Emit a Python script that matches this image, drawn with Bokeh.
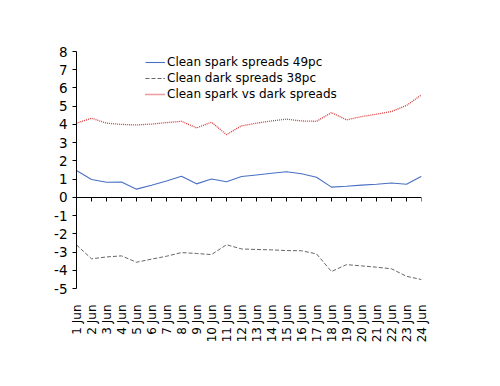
import math
from bokeh.plotting import figure
from bokeh.models import Range1d, LinearAxis, FixedTicker, Legend, LegendItem
from bokeh.embed import file_html
from bokeh.resources import INLINE

day_labels = ["1 Jun", "2 Jun", "3 Jun", "4 Jun", "5 Jun", "6 Jun", "7 Jun", "8 Jun",
              "9 Jun", "10 Jun", "11 Jun", "12 Jun", "13 Jun", "14 Jun", "15 Jun", "16 Jun",
              "17 Jun", "18 Jun", "19 Jun", "20 Jun", "21 Jun", "22 Jun", "23 Jun", "24 Jun"]
day_pos = [1, 2, 3, 4, 5, 6, 7, 8, 9, 10, 11, 12, 13, 14, 15, 16, 17, 18, 19, 20, 21, 22, 23, 24]

spark = [1.47, 0.98, 0.83, 0.84, 0.45, 0.66, 0.90, 1.16, 0.74, 1.01, 0.86, 1.14,
         1.23, 1.32, 1.40, 1.29, 1.10, 0.56, 0.61, 0.67, 0.72, 0.79, 0.72, 1.16]
dark = [-2.61, -3.37, -3.27, -3.21, -3.56, -3.39, -3.23, -3.03, -3.08, -3.14, -2.60, -2.83,
        -2.86, -2.88, -2.92, -2.93, -3.10, -4.07, -3.69, -3.76, -3.83, -3.92, -4.33, -4.51]
spread = [4.07, 4.34, 4.07, 4.00, 3.97, 4.02, 4.10, 4.17, 3.81, 4.12, 3.44, 3.92,
          4.07, 4.19, 4.29, 4.19, 4.17, 4.65, 4.25, 4.43, 4.56, 4.71, 5.04, 5.62]
y_ticks = [8, 7, 6, 5, 4, 3, 2, 1, 0, -1, -2, -3, -4, -5]
y_tick_labels = ["8", "7", "6", "5", "4", "3", "2", "1", "0", "-1", "-2", "-3", "-4", "-5"]

FONT = "DejaVu Sans"

p = figure(width=500, height=386, output_backend="svg", toolbar_location=None,
           x_range=Range1d(day_pos[0], day_pos[-1]), y_range=Range1d(min(y_ticks), max(y_ticks)),
           min_border_left=76, min_border_right=79, min_border_top=51, min_border_bottom=98,
           x_axis_location=None, y_axis_location=None)
p.outline_line_color = None
p.grid.visible = False
p.background_fill_color = "white"
p.border_fill_color = "white"

# y axis
yax = LinearAxis(ticker=FixedTicker(ticks=y_ticks))
yax.axis_line_color = "black"
yax.major_tick_line_color = "black"
yax.major_tick_out = 4
yax.major_tick_in = 0
yax.minor_tick_line_color = None
yax.major_label_standoff = 5
yax.major_label_overrides = {t: l for t, l in zip(y_ticks, y_tick_labels)}
yax.major_label_text_font = FONT
yax.major_label_text_font_size = "13.5px"
yax.major_label_text_color = "black"
p.add_layout(yax, "left")

# x axis line at zero with ticks
zax = LinearAxis(ticker=FixedTicker(ticks=day_pos), fixed_location=0)
zax.axis_line_color = "black"
zax.major_tick_line_color = "black"
zax.major_tick_out = 4
zax.major_tick_in = 0
zax.minor_tick_line_color = None
zax.major_label_text_color = None
zax.major_label_text_font_size = "1px"
p.add_layout(zax, "below")

# label axis at bottom
lax = LinearAxis(ticker=FixedTicker(ticks=day_pos))
lax.axis_line_color = None
lax.major_tick_line_color = None
lax.minor_tick_line_color = None
lax.major_label_overrides = {d: l for d, l in zip(day_pos, day_labels)}
lax.major_label_orientation = math.pi / 2
lax.major_label_standoff = 10
lax.major_label_text_font = FONT
lax.major_label_text_font_size = "12px"
lax.major_label_text_color = "black"
p.add_layout(lax, "below")

r1 = p.line(day_pos, spark, line_color="#4a70c4", line_width=1.1)
r2 = p.line(day_pos, dark, line_color="#666666", line_width=1, line_dash="4 2")
r3 = p.line(day_pos, spread, line_color="#d83a3a", line_width=1.3, line_dash="1 1")

legend = Legend(items=[
    LegendItem(label="Clean spark spreads 49pc", renderers=[r1]),
    LegendItem(label="Clean dark spreads 38pc", renderers=[r2]),
    LegendItem(label="Clean spark vs dark spreads", renderers=[r3]),
], location=(69, 186))
legend.background_fill_alpha = 0
legend.border_line_color = None
legend.padding = 0
legend.margin = 0
legend.spacing = 0
legend.glyph_width = 20
legend.glyph_height = 16
legend.label_height = 16
legend.label_standoff = 2
legend.label_text_font = FONT
legend.label_text_font_size = "12px"
legend.label_text_color = "black"
legend.label_text_line_height = 1.0
p.add_layout(legend)

open("out.html", "w").write(file_html(p, INLINE))
